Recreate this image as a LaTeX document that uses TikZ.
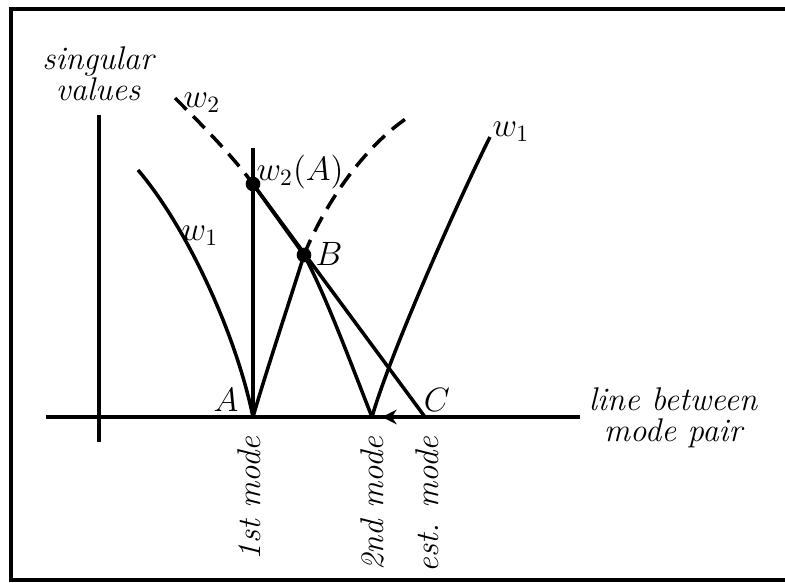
\documentclass[tikz,border=0pt]{standalone}
\usepackage{amsmath}
\usetikzlibrary{arrows.meta}

\begin{document}
\begin{tikzpicture}[x=0.015cm,y=-0.015cm,
 every node/.style={font=\fontsize{14}{13}\selectfont\itshape,align=center},
 frame/.style={line width=1.8pt},
 axis/.style={line width=1.7pt},
 curve/.style={line width=1.5pt},
 dashcurve/.style={curve,dash pattern=on 7pt off 4pt},
 dot/.style={circle,fill=black,inner sep=0pt,minimum size=0.22cm},
 arrow/.style={-{Stealth[length=2.2mm,width=2.2mm]},line width=0.9pt},
 modelabel/.style={rotate=90,anchor=east}]
\useasboundingbox (0,0) rectangle (785,583);
% frame and axes
\draw[frame] (785,9) -- (11,9) -- (11,580) -- (785,580);
\coordinate (ytop) at (99,115);
\coordinate (ybot) at (99,442);
\coordinate (xleft) at (46,417);
\coordinate (xright) at (580,417);
\draw[axis] (ytop) -- (ybot);
\draw[axis] (xleft) -- (xright);
% points on the line between the modes
\coordinate (A) at (253,417);
\coordinate (mode2) at (372,417);
\coordinate (C) at (425,417);
\coordinate (tip) at (382,417);
\coordinate (Atop) at (253,148);
\node[dot] (wA) at (253,184) {};
\node[dot] (B) at (304,255) {};
% ends of the curves
\coordinate (w1left) at (138,170);
\coordinate (w1dash) at (407,118);
\coordinate (w2dash) at (175,98);
\coordinate (w1right) at (490,137);
% w1 around the 1st mode
\draw[curve] (w1left) .. controls (185,225) and (235,330) .. (A);
\draw[curve] (A) .. controls (265,375) and (290,300) .. (B.center);
\draw[dashcurve] (B.center) .. controls (322,210) and (360,150) .. (w1dash);
% w2 around the 2nd mode
\draw[dashcurve] (w2dash) .. controls (200,123) and (231,154) .. (wA.center);
\draw[curve] (wA.center) -- (B.center);
\draw[curve] (B.center) .. controls (326,295) and (356,377) .. (mode2);
\draw[curve] (mode2) .. controls (389,357) and (455,207) .. (w1right);
% vertical at A and chord to the estimate
\draw[curve] (A) -- (Atop);
\draw[curve] (wA.center) -- (C);
\draw[arrow] (C) -- (tip);
% labels
\node (lsv) at (98,74) {singular\\values};
\node (lw2) at (202,103) {$w_2$};
\node (lw2A) at (300,172) {$w_2(A)$};
\node (lw1a) at (200,236) {$w_1$};
\node (lw1b) at (511,132) {$w_1$};
\node (lB) at (329,254) {$B$};
\node (lA) at (226,400) {$A$};
\node (lC) at (437,400) {$C$};
\node (lline) at (673,418) {line between\\mode pair};
\node[modelabel] (l1st) at (249,428) {1st mode};
\node[modelabel] (l2nd) at (372,428) {2nd mode};
\node[modelabel] (lest) at (427,428) {est. mode};
\end{tikzpicture}
\end{document}
